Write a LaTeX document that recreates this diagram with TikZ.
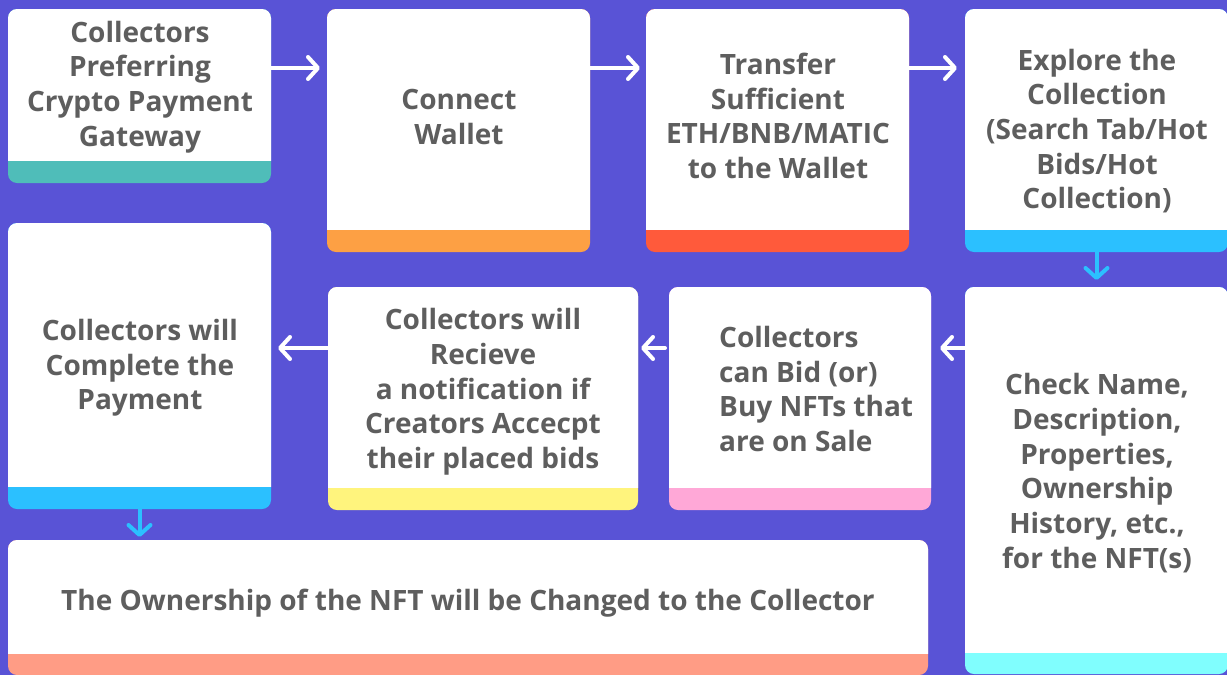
\documentclass[tikz,border=0pt]{standalone}
\usepackage{fontspec}
\setmainfont{Open Sans}
\usetikzlibrary{arrows.meta}
\definecolor{bg}{HTML}{5953D6}
\definecolor{cteal}{HTML}{4FBDB9}
\definecolor{corange}{HTML}{FDA044}
\definecolor{cred}{HTML}{FF5A3B}
\definecolor{ccyan}{HTML}{2BC0FF}
\definecolor{clcyan}{HTML}{80FEFE}
\definecolor{cpink}{HTML}{FFA8D7}
\definecolor{cyellow}{HTML}{FFF47D}
\definecolor{csalmon}{HTML}{FF9C85}
\definecolor{txt}{HTML}{5E5E5E}
\newcommand\mkcard[7]{%
  \node[cardbase, fill=#7, minimum width={#4-#2}, minimum height={#5-#3}] (#1) at ({(#2+#4)/2},{(#3+#5)/2}) {};
  \begin{scope}
    \clip (#2,#3) rectangle (#4,#5-#6);
    \fill[white, rounded corners=9pt] (#2,#3) rectangle (#4,#5);
  \end{scope}}
\begin{document}
\begin{tikzpicture}[x=1pt,y=-1pt,
  cardbase/.style={rectangle, draw=none, rounded corners=9pt, inner sep=0pt, outer sep=0pt},
  lbl/.style={text=txt, font=\bfseries\fontsize{28}{34.7}\selectfont, align=center, inner sep=0pt},
  warr/.style={draw=white, line width=4pt, line cap=round, -{Straight Barb[length=10pt,width=22pt,line cap=round,line join=round]}},
  carr/.style={draw=ccyan, line width=4pt, line cap=round, -{Straight Barb[length=10pt,width=22pt,line cap=round,line join=round]}}]
\fill[bg] (0,0) rectangle (1227,675);
\useasboundingbox (0,0) rectangle (1227,675);
\mkcard{b1}{8}{9}{271}{183}{23}{cteal}
\mkcard{b2}{327}{9}{590}{252}{23}{corange}
\mkcard{b3}{646}{9}{909}{252}{23}{cred}
\mkcard{b4}{965}{9}{1228}{252}{23}{ccyan}
\mkcard{b5}{965}{287}{1228}{674}{22}{clcyan}
\mkcard{b6}{669}{287}{931}{510}{23}{cpink}
\mkcard{b7}{328}{287}{638}{510}{23}{cyellow}
\mkcard{b8}{8}{223}{271}{509}{23}{ccyan}
\mkcard{b9}{8}{540}{928}{675}{22}{csalmon}
\node[lbl] (t1) at (140,87) {Collectors\\Preferring\\Crypto Payment\\Gateway};
\node[lbl] (t2) at (459,117) {Connect\\Wallet};
\node[lbl] (t3) at (778,116) {Transfer\\Sufficient\\ETH/BNB/MATIC\\to the Wallet};
\node[lbl] (t4) at (1097,131) {Explore the\\Collection\\(Search Tab/Hot\\Bids/Hot\\Collection)};
\node[lbl] (t5) at (1097,473) {Check Name,\\Description,\\Properties,\\Ownership\\History, etc.,\\for the NFT(s)};
\node[lbl, align=left, anchor=west] (t6) at (719,389) {Collectors\\can Bid (or)\\Buy NFTs that\\are on Sale};
\node[lbl] (t7) at (483,392) {Collectors will\\Recieve\\a notification if\\Creators Accecpt\\their placed bids};
\node[lbl] (t8) at (140,368) {Collectors will\\Complete the\\Payment};
\node[lbl] (t9) at (468,603) {The Ownership of the NFT will be Changed to the Collector};
\coordinate (r1) at (0,68);
\coordinate (r2) at (0,348);
\draw[warr, shorten >=7pt] (b1.east |- r1) -- (b2.west |- r1);
\draw[warr, shorten >=6pt] (b2.east |- r1) -- (b3.west |- r1);
\draw[warr, shorten >=8pt] (b3.east |- r1) -- (b4.west |- r1);
\draw[carr, shorten >=7pt] (b4.south) -- (b5.north);
\draw[warr, shorten >=9pt] (b5.west |- r2) -- (b6.east |- r2);
\draw[warr, shorten >=3pt, shorten <=4pt] (b6.west |- r2) -- (b7.east |- r2);
\draw[warr, shorten >=7pt] (b7.west |- r2) -- (b8.east |- r2);
\draw[carr, shorten >=3pt] ([yshift=20pt]b8.south) -- (b9.north -| b8.south);
\end{tikzpicture}
\end{document}
